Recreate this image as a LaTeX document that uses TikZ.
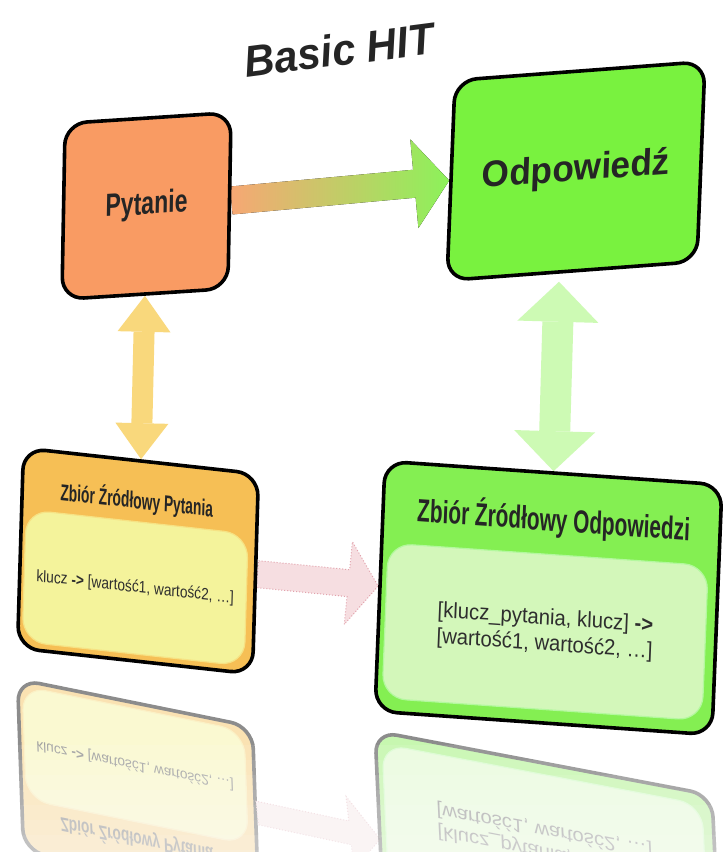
\documentclass[tikz,border=0pt]{standalone}
\usepackage{fontspec}
\setmainfont{Liberation Sans}
\usepackage{graphicx}
\usetikzlibrary{calc,arrows.meta,backgrounds,positioning}

\definecolor{pytfill}{HTML}{F99B63}
\definecolor{odpfill}{HTML}{79F23F}
\definecolor{zpytfill}{HTML}{F6BF55}
\definecolor{yellowin}{HTML}{F4F39B}
\definecolor{zodpfill}{HTML}{84EF52}
\definecolor{greenin}{HTML}{D3F7BA}
\definecolor{linkL}{HTML}{F7A774}
\definecolor{linkM}{HTML}{D6C468}
\definecolor{linkR}{HTML}{8CF25A}
\definecolor{updown}{HTML}{F9D87C}
\definecolor{updowngreen}{HTML}{CDFAB4}
\definecolor{pinkfill}{HTML}{F6DEE1}
\definecolor{pinkline}{HTML}{E2A2AC}
\definecolor{titlegrey}{HTML}{252525}
\definecolor{bodygrey}{HTML}{2E2E2E}

\tikzset{
  card/.style={draw=black, line width=1.8pt, rounded corners=11pt, inner sep=0pt},
  pane/.style={rounded corners=12pt, inner sep=0pt, line width=0.6pt},
  headtext/.style={text=titlegrey, inner sep=0pt, font=\bfseries},
  bodytext/.style={text=bodygrey, inner sep=0pt},
  pinklink/.style={fill=pinkfill, draw=pinkline, densely dotted, line width=0.5pt},
  updownarrow/.style={line width=10.5pt,
    arrows={Triangle[width=26.5pt,length=18pt,line width'=0pt]-Triangle[width=26.5pt,length=18pt,line width'=0pt]}},
  updownwide/.style={line width=15.5pt,
    arrows={Triangle[width=40.5pt,length=20pt,line width'=0pt]-Triangle[width=40.5pt,length=20pt,line width'=0pt]}}
}

\begin{document}
\begin{tikzpicture}[x=0.5pt,y=-0.5pt]
\useasboundingbox (0,0) rectangle (723,852);
\clip (0,0) rectangle (723,852);
\begin{pgfonlayer}{background}
\fill[white] (0,0) rectangle (723,852);
\end{pgfonlayer}

% title
\node[headtext, rotate=7.4, font=\fontsize{22pt}{24pt}\selectfont\bfseries\itshape] (title) at (339,50) {\scalebox{0.95}[1]{Basic HIT}};

% mirror images under the lower cards (a little squashed)
\begin{scope}[cm={1,-0.296,0,-0.85,(0,1224.8)}, transparency group, opacity=0.45]
\begin{scope}[shift={(138,561)}, cm={1,-0.11,0.03,1,(0,0)}, transform shape]
\node[card, fill=zpytfill, minimum width=117.5pt, minimum height=100pt] (zpytR) {};
\node[pane, fill=yellowin, draw=yellowin!85!orange, minimum width=111pt, minimum height=66pt] (zpytinR) at (-2,27) {};
\node[bodytext, font=\fontsize{8.25pt}{10pt}\selectfont] at (zpytinR) {\scalebox{0.83}[1]{klucz \textbf{->} [wartość1, wartość2, …]}};
\node[headtext, font=\fontsize{11.5pt}{13pt}\selectfont\bfseries] (zpytheadR) at (-3,-60) {\scalebox{0.6}[1]{Zbiór Źródłowy Pytania}};
\end{scope}
\coordinate (pinktipR) at (380,586);
\coordinate (pinkhbR) at ($(pinktipR)!15pt!(zpytR.east)$);
\path[pinklink] ($(zpytR.east)!6.75pt!90:(pinktipR)$) -- ($(pinkhbR)!6.75pt!90:(pinktipR)$) -- ($(pinkhbR)!20.75pt!90:(pinktipR)$) -- (pinktipR) -- ($(pinkhbR)!20.75pt!-90:(pinktipR)$) -- ($(pinkhbR)!6.75pt!-90:(pinktipR)$) -- ($(zpytR.east)!6.75pt!-90:(pinktipR)$) -- cycle;
\end{scope}

\begin{scope}[cm={1,-0.2498,0,-0.85,(0,1241.9)}, transparency group, opacity=0.45]
\begin{scope}[shift={(548.5,598)}, cm={1,-0.07,0.04,1,(0,0)}, transform shape]
\node[card, fill=zodpfill, minimum width=168.5pt, minimum height=125pt] (zodpR) {};
\node[pane, fill=greenin, draw=greenin!85!green, minimum width=160pt, minimum height=77.5pt] (zodpinR) at (-2,34) {};
\node[bodytext, align=left, font=\fontsize{11pt}{13pt}\selectfont] at (zodpinR) {\scalebox{0.92}[1]{[klucz\_pytania, klucz] \textbf{->}}\\\scalebox{0.92}[1]{[wartość1, wartość2, …]}};
\node[headtext, font=\fontsize{16pt}{18pt}\selectfont\bfseries] (zodpheadR) at (2,-78) {\scalebox{0.65}[1]{Zbiór Źródłowy Odpowiedzi}};
\end{scope}
\end{scope}

% the mirror images fade out downwards
\foreach \yy in {745,760,...,850}
  \fill[white, opacity=0.09] (0,\yy) rectangle (723,852);

% upper cards
\begin{scope}[shift={(146.5,206)}, cm={1,0.065,0.018,1,(0,0)}, transform shape]
\node[card, fill=pytfill, minimum width=83pt, minimum height=88pt, headtext, font=\fontsize{16pt}{18pt}\selectfont\bfseries] (pyt) {\scalebox{0.72}[1]{Pytanie}};
\end{scope}
\begin{scope}[shift={(576,171)}, cm={1,0.075,0.04,1,(0,0)}, transform shape]
\node[card, fill=odpfill, minimum width=125pt, minimum height=100pt, headtext, font=\fontsize{18.5pt}{20pt}\selectfont\bfseries] (odp) {\scalebox{0.95}[1]{Odpowiedź}};
\end{scope}

% lower cards
\begin{scope}[shift={(138,561)}, cm={1,-0.11,0.03,1,(0,0)}, transform shape]
\node[card, fill=zpytfill, minimum width=117.5pt, minimum height=100pt] (zpyt) {};
\node[pane, fill=yellowin, draw=yellowin!85!orange, minimum width=111pt, minimum height=66pt] (zpytin) at (-2,27) {};
\node[bodytext, font=\fontsize{8.25pt}{10pt}\selectfont] (zpytbody) at (zpytin) {\scalebox{0.83}[1]{klucz \textbf{->} [wartość1, wartość2, …]}};
\node[headtext, font=\fontsize{11.5pt}{13pt}\selectfont\bfseries] (zpythead) at (-3,-60) {\scalebox{0.6}[1]{Zbiór Źródłowy Pytania}};
\end{scope}
\begin{scope}[shift={(548.5,598)}, cm={1,-0.07,0.04,1,(0,0)}, transform shape]
\node[card, fill=zodpfill, minimum width=168.5pt, minimum height=125pt] (zodp) {};
\node[pane, fill=greenin, draw=greenin!85!green, minimum width=160pt, minimum height=77.5pt] (zodpin) at (-2,34) {};
\node[bodytext, align=left, font=\fontsize{11pt}{13pt}\selectfont] (zodpbody) at (zodpin) {\scalebox{0.92}[1]{[klucz\_pytania, klucz] \textbf{->}}\\\scalebox{0.92}[1]{[wartość1, wartość2, …]}};
\node[headtext, font=\fontsize{16pt}{18pt}\selectfont\bfseries] (zodphead) at (2,-78) {\scalebox{0.65}[1]{Zbiór Źródłowy Odpowiedzi}};
\end{scope}

% links, kept behind the cards
\begin{pgfonlayer}{background}
\coordinate (linkhb) at ($(odp.west)!17.5pt!(pyt.east)$);
\fill[left color=linkL, middle color=linkM, right color=linkR] ($(pyt.east)!7pt!90:(odp.west)$) -- ($(linkhb)!7pt!90:(odp.west)$) -- ($(linkhb)!22.25pt!90:(odp.west)$) -- (odp.west) -- ($(linkhb)!22.25pt!-90:(odp.west)$) -- ($(linkhb)!7pt!-90:(odp.west)$) -- ($(pyt.east)!7pt!-90:(odp.west)$) -- cycle;
\coordinate (pinkhb) at ($(zodp.west)!15pt!(zpyt.east)$);
\path[pinklink] ($(zpyt.east)!6.75pt!90:(zodp.west)$) -- ($(pinkhb)!6.75pt!90:(zodp.west)$) -- ($(pinkhb)!20.75pt!90:(zodp.west)$) -- (zodp.west) -- ($(pinkhb)!20.75pt!-90:(zodp.west)$) -- ($(pinkhb)!6.75pt!-90:(zodp.west)$) -- ($(zpyt.east)!6.75pt!-90:(zodp.west)$) -- cycle;
\draw[updownarrow, draw=updown, fill=updown] (pyt.south) -- (zpyt.north);
\draw[updownwide, draw=updowngreen, fill=updowngreen, shorten <=4pt] ($(odp.south west)!0.45!(odp.south east)$) -- (zodp.north);
\end{pgfonlayer}
\end{tikzpicture}
\end{document}
